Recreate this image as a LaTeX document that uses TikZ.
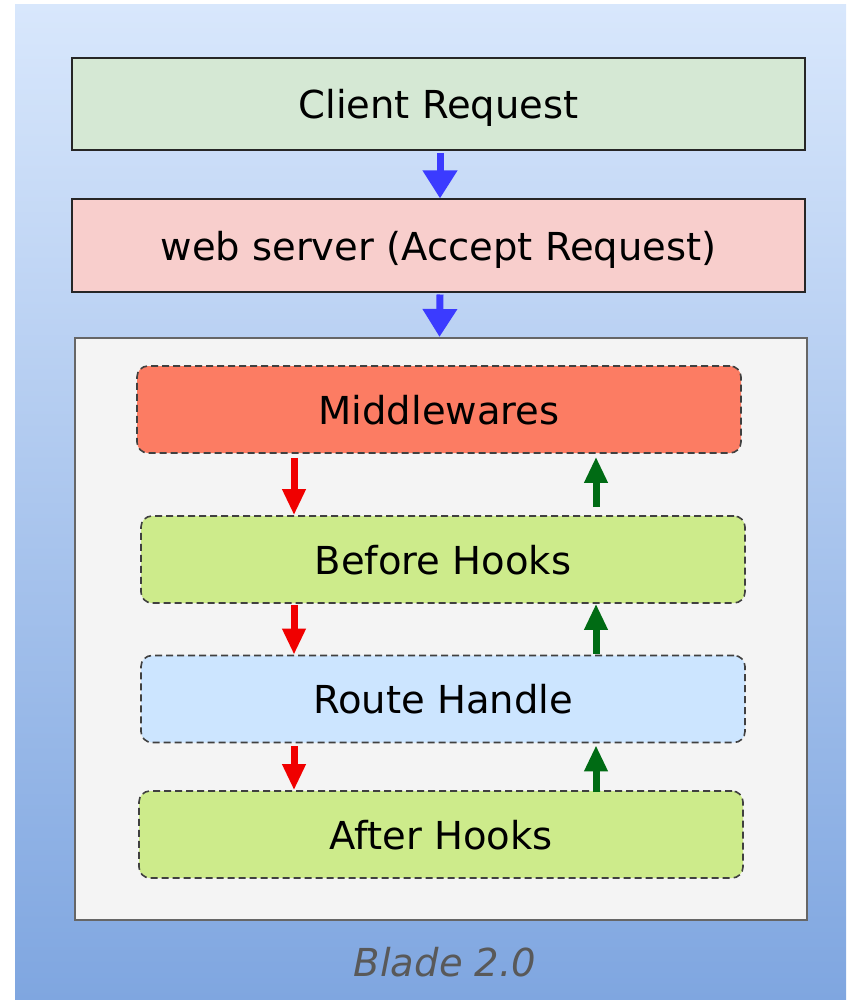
\documentclass[tikz,border=0pt]{standalone}
\usepackage{fontspec}
\setmainfont{DejaVu Sans}
\usetikzlibrary{arrows.meta,calc}
\definecolor{bgtop}{HTML}{D8E7FC}
\definecolor{bgbot}{HTML}{7FA6E0}
\definecolor{clientfill}{HTML}{D5E8D4}
\definecolor{webfill}{HTML}{F8CECC}
\definecolor{contfill}{HTML}{F4F4F4}
\definecolor{mwfill}{HTML}{FC7C63}
\definecolor{hookfill}{HTML}{CDEB8B}
\definecolor{routefill}{HTML}{CCE5FF}
\definecolor{arrblue}{HTML}{3B3BFF}
\definecolor{arrred}{HTML}{F00000}
\definecolor{arrgreen}{HTML}{006B14}
\tikzset{
  bigtext/.style={font=\fontsize{38.5}{44}\selectfont, text height=34pt, text depth=5pt},
  solidbox/.style={draw=black!85, line width=2pt, inner sep=0pt,
    minimum width=733pt, minimum height=92pt, bigtext},
  dashbox/.style={draw=black!75, line width=1.6pt, dash pattern=on 7pt off 4pt,
    rounded corners=11pt, inner sep=0pt, minimum width=604pt, minimum height=87pt,
    bigtext},
  bluearrow/.style={draw=arrblue, line width=7pt,
    -{Triangle[width=33pt,length=28pt]}},
  redarrow/.style={draw=arrred, line width=7pt,
    -{Triangle[width=22pt,length=26pt]}},
  greenarrow/.style={draw=arrgreen, line width=7pt,
    -{Triangle[width=22pt,length=26pt]}},
}
\begin{document}
\begin{tikzpicture}[x=1pt,y=-1pt]
\useasboundingbox (0,0) rectangle (846,1000);
\fill[white] (0,0) rectangle (846,1000);
\shade[top color=bgtop, bottom color=bgbot] (15,5) rectangle (846,1000);

\node[solidbox, fill=clientfill] (client) at (438.5,104) {Client Request};
\node[solidbox, fill=webfill] (web) at (438.5,245.5) {web server (Accept Request)};

\node[draw=black!60, line width=2pt, fill=contfill, inner sep=0pt,
  minimum width=732pt, minimum height=582pt] (cont) at (441,629) {};

\node[dashbox, fill=mwfill] (mw) at (439,409.5) {Middlewares};
\node[dashbox, fill=hookfill] (bh) at (443,559.5) {Before Hooks};
\node[dashbox, fill=routefill] (rh) at (443,699) {Route Handle};
\node[dashbox, fill=hookfill] (ah) at (441,834.5) {After Hooks};

\node[font=\fontsize{38.5}{44}\selectfont\itshape, text=black!65] (title) at (445,962) {Blade 2.0};

\draw[bluearrow] ($(client.south)+(1.5,2)$) -- ($(web.north)+(1.5,0)$);
\draw[bluearrow] ($(web.south)+(1.5,2)$) -- ($(cont.north)+(-1.5,0)$);

\coordinate (L) at (294,0);
\coordinate (R) at (596,0);
\draw[redarrow] ($(L |- mw.south)+(0,4)$) -- (L |- bh.north);
\draw[redarrow] ($(L |- bh.south)+(0,1)$) -- (L |- rh.north);
\draw[redarrow] ($(L |- rh.south)+(0,3)$) -- (L |- ah.north);
\draw[greenarrow] ($(R |- bh.north)+(0,-8)$) -- ($(R |- mw.south)+(0,3)$);
\draw[greenarrow] ($(R |- rh.north)+(0,-1)$) -- ($(R |- bh.south)+(0,0)$);
\draw[greenarrow] ($(R |- ah.north)+(0,2)$) -- ($(R |- rh.south)+(0,2)$);
\end{tikzpicture}
\end{document}
